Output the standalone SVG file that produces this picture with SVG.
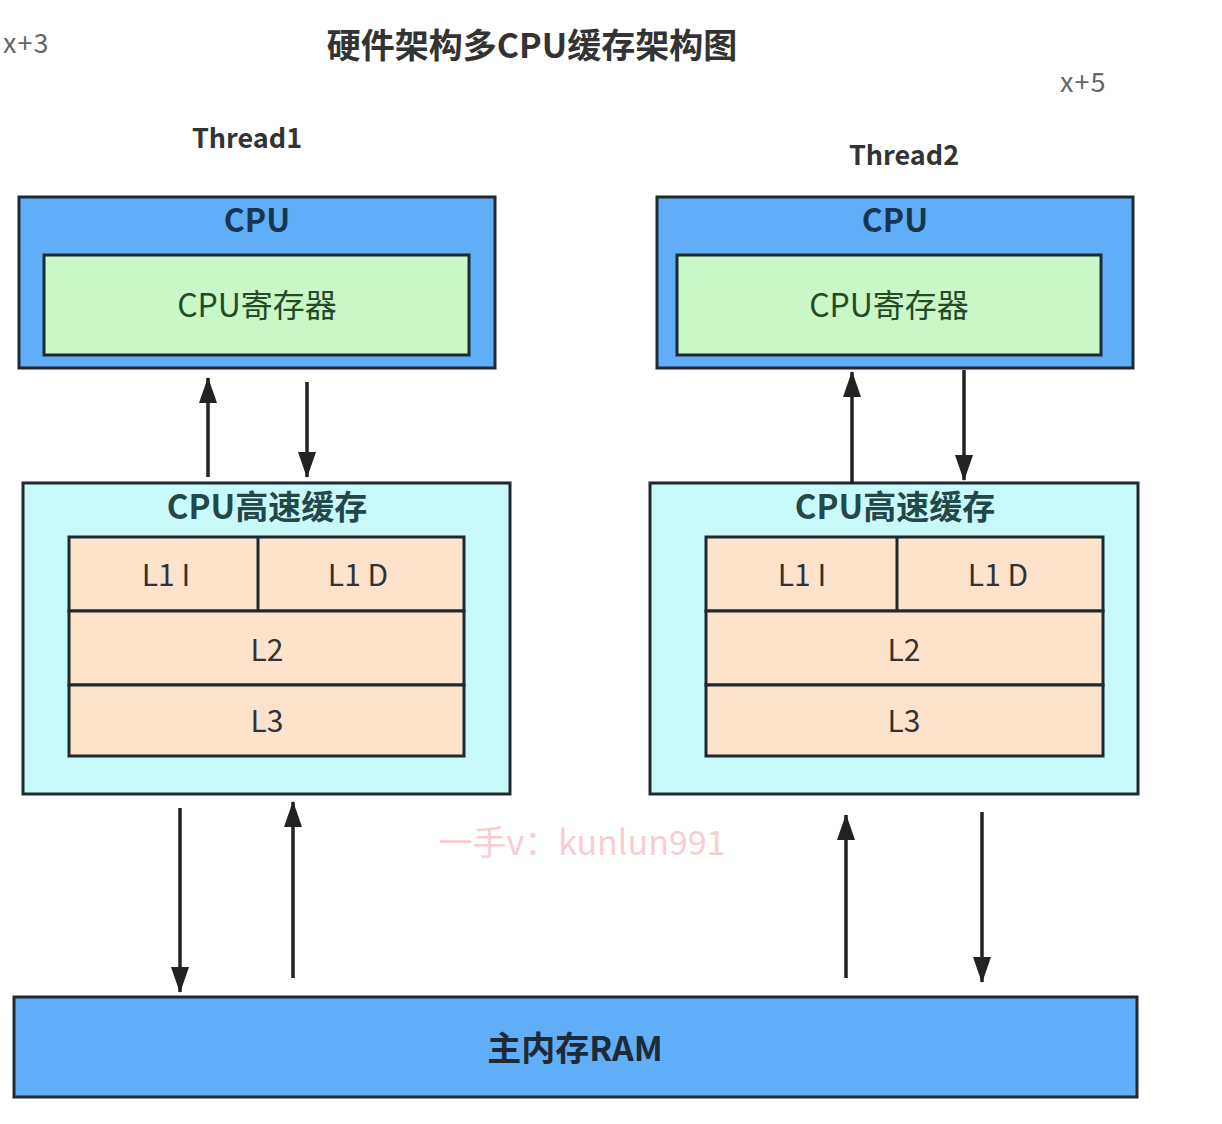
<svg xmlns="http://www.w3.org/2000/svg" width="1222" height="1124" viewBox="0 0 1222 1124">
<defs>
<style>
text{font-family:"Noto Sans CJK SC","Noto Sans",sans-serif;text-anchor:middle;dominant-baseline:central}
.cpu{fill:#60aef8;stroke:#1e2a30;stroke-width:3}
.reg{fill:#c8f7c8;stroke:#1e2a30;stroke-width:3}
.cache{fill:#c9fafa;stroke:#1e2a30;stroke-width:3}
.lv{fill:#fde3cc;stroke:#1e2a30;stroke-width:3}
.ram{fill:#60aef8;stroke:#1e2a30;stroke-width:3}
.cpul{font-size:32px;font-weight:bold;fill:#173550}
.regl{font-size:32px;fill:#264a26}
.cachel{font-size:33px;font-weight:bold;fill:#234848}
.lvl{font-size:30px;fill:#333}
.thr{font-size:27px;font-weight:bold;fill:#333}
.note{font-size:27px;fill:#666;text-anchor:start;letter-spacing:1px}
.conn line{stroke:#222;stroke-width:3.5}
</style>
<marker id="ah" viewBox="0 0 26 20" refX="25" refY="10" markerWidth="26" markerHeight="20" markerUnits="userSpaceOnUse" orient="auto">
<path d="M0,1 L26,10 L0,19 z" fill="#222"/>
</marker>
</defs>
<rect width="1222" height="1124" fill="#fff"/>
<text id="title" x="532" y="43" style="font-size:34px;font-weight:bold;fill:#333">硬件架构多CPU缓存架构图</text>
<text id="x3" class="note" x="3" y="41">x+3</text>
<text id="x5" class="note" x="1060" y="80">x+5</text>
<text id="thread1" class="thr" x="247" y="136">Thread1</text>
<text id="thread2" class="thr" x="904" y="153">Thread2</text>

<g id="cpu1">
<rect class="cpu" x="19" y="197" width="476" height="171"/>
<text class="cpul" x="257" y="218">CPU</text>
<rect class="reg" x="44" y="255" width="425" height="100"/>
<text class="regl" x="257" y="303">CPU寄存器</text>
</g>
<g id="cpu2">
<rect class="cpu" x="657" y="197" width="476" height="171"/>
<text class="cpul" x="895" y="218">CPU</text>
<rect class="reg" x="677" y="255" width="424" height="100"/>
<text class="regl" x="889" y="303">CPU寄存器</text>
</g>

<g id="cache1">
<rect class="cache" x="23" y="483" width="487" height="311"/>
<text class="cachel" x="267" y="505">CPU高速缓存</text>
<rect class="lv" x="69" y="537" width="395" height="74"/>
<line x1="258" y1="537" x2="258" y2="611" stroke="#1e2a30" stroke-width="3"/>
<rect class="lv" x="69" y="611" width="395" height="74"/>
<rect class="lv" x="69" y="685" width="395" height="71"/>
<text class="lvl" x="166" y="573">L1 I</text>
<text class="lvl" x="358" y="573">L1 D</text>
<text class="lvl" x="267" y="648">L2</text>
<text class="lvl" x="267" y="719">L3</text>
</g>
<g id="cache2">
<rect class="cache" x="650" y="483" width="488" height="311"/>
<text class="cachel" x="895" y="505">CPU高速缓存</text>
<rect class="lv" x="706" y="537" width="397" height="74"/>
<line x1="897" y1="537" x2="897" y2="611" stroke="#1e2a30" stroke-width="3"/>
<rect class="lv" x="706" y="611" width="397" height="74"/>
<rect class="lv" x="706" y="685" width="397" height="71"/>
<text class="lvl" x="802" y="573">L1 I</text>
<text class="lvl" x="998" y="573">L1 D</text>
<text class="lvl" x="904" y="648">L2</text>
<text class="lvl" x="904" y="719">L3</text>
</g>

<g id="ram">
<rect class="ram" x="14" y="997" width="1123" height="100"/>
<text x="575" y="1046" style="font-size:34px;font-weight:bold;fill:#1e2a35">主内存RAM</text>
</g>

<text id="watermark" x="582" y="840" style="font-size:34px;fill:#f7cdd0">一手v：kunlun991</text>

<g id="connectors" class="conn">
<line x1="208" y1="477" x2="208" y2="378" marker-end="url(#ah)"/>
<line x1="307" y1="382" x2="307" y2="477" marker-end="url(#ah)"/>
<line x1="852" y1="483" x2="852" y2="372" marker-end="url(#ah)"/>
<line x1="964" y1="370" x2="964" y2="480" marker-end="url(#ah)"/>
<line x1="180" y1="808" x2="180" y2="992" marker-end="url(#ah)"/>
<line x1="293" y1="978" x2="293" y2="802" marker-end="url(#ah)"/>
<line x1="846" y1="978" x2="846" y2="815" marker-end="url(#ah)"/>
<line x1="982" y1="812" x2="982" y2="982" marker-end="url(#ah)"/>
</g>
</svg>
